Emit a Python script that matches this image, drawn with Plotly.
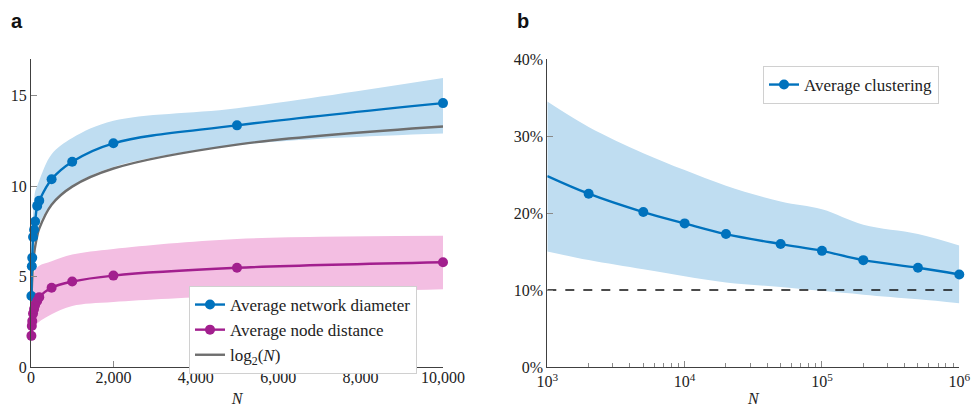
import numpy as np
import plotly.graph_objects as go

# ---- panel a: network size vs. path lengths ----
N_SIZES = [10, 20, 30, 50, 75, 100, 150, 200, 500, 1000, 2000, 5000, 10000]
DIAMETER = [3.92, 5.57, 6.03, 7.18, 7.58, 8.04, 8.90, 9.19, 10.37, 11.34, 12.36, 13.35, 14.58]
DIAMETER_HI = [4.3, 6.3, 7.2, 8.5, 9.2, 9.7, 10.0, 10.3, 11.75, 12.65, 13.6, 14.3, 15.97]
DIAMETER_LO = [3.6, 4.9, 5.3, 6.0, 6.6, 7.0, 7.5, 7.9, 9.0, 10.0, 11.05, 12.25, 12.9]
DISTANCE = [1.72, 2.27, 2.54, 2.95, 3.2, 3.42, 3.65, 3.86, 4.38, 4.72, 5.05, 5.48, 5.79]
DISTANCE_HI = [3.4, 4.3, 4.7, 5.0, 5.2, 5.38, 5.5, 5.6, 5.84, 6.21, 6.52, 7.07, 7.25]
DISTANCE_LO = [1.3, 1.7, 1.9, 2.05, 2.15, 2.27, 2.4, 2.5, 2.91, 3.37, 3.59, 3.95, 4.29]
A_XTICKS = [0, 2000, 4000, 6000, 8000, 10000]
A_YTICKS = [0, 5, 10, 15]

# ---- panel b: network size vs. clustering ----
N_LARGE = [1e3, 2e3, 5e3, 1e4, 2e4, 5e4, 1e5, 2e5, 5e5, 1e6]
CLUSTERING = [0.2483, 0.2253, 0.2014, 0.1867, 0.1728, 0.1598, 0.151, 0.1389, 0.129, 0.1203]
CLUSTERING_HI = [0.345, 0.312, 0.278, 0.256, 0.2357, 0.215, 0.205, 0.185, 0.173, 0.158]
CLUSTERING_LO = [0.150, 0.139, 0.127, 0.118, 0.110, 0.104, 0.099, 0.094, 0.088, 0.083]
BASELINE = 0.10
B_XTICKS = [1e3, 1e4, 1e5, 1e6]
B_XTICKTEXT = ["10<sup>3</sup>", "10<sup>4</sup>", "10<sup>5</sup>", "10<sup>6</sup>"]
B_YTICKS = [0, 0.1, 0.2, 0.3, 0.4]

BLUE = "#0072BD"
BLUE_BAND = "#BFDDF1"
PURPLE = "#A21F8E"
PINK_BAND = "#F3BEE2"
GRAY = "#6E6E6E"
SERIF = "Liberation Serif, DejaVu Serif, serif"
SANS = "Liberation Sans, Arial, sans-serif"
AXIS = "#404040"
TICK = "#8A8A8A"

fig = go.Figure()


def band(x, lo, hi, color, xa, ya):
    fig.add_trace(go.Scatter(x=x, y=lo, mode="lines", line=dict(width=0, shape="spline"),
                             showlegend=False, hoverinfo="skip", xaxis=xa, yaxis=ya))
    fig.add_trace(go.Scatter(x=x, y=hi, mode="lines", line=dict(width=0, shape="spline"),
                             fill="tonexty", fillcolor=color, showlegend=False,
                             hoverinfo="skip", xaxis=xa, yaxis=ya))


band(N_SIZES, DIAMETER_LO, DIAMETER_HI, BLUE_BAND, "x", "y")
band(N_SIZES, DISTANCE_LO, DISTANCE_HI, PINK_BAND, "x", "y")
band(N_LARGE, CLUSTERING_LO, CLUSTERING_HI, BLUE_BAND, "x2", "y2")

# reference curve log2(N)
n_arr = np.array(N_SIZES, dtype=float)
fig.add_trace(go.Scatter(x=n_arr, y=np.log2(n_arr), mode="lines",
                         line=dict(color=GRAY, width=2.4, shape="spline"),
                         name="log<sub>2</sub>(<i>N</i>)", legend="legend",
                         legendrank=3, xaxis="x", yaxis="y"))

marker_line = dict(width=2.4, shape="spline")
fig.add_trace(go.Scatter(x=N_SIZES, y=DIAMETER, mode="lines+markers",
                         line=dict(color=BLUE, **marker_line),
                         marker=dict(size=10, color=BLUE), cliponaxis=False,
                         name="Average network diameter", legend="legend",
                         legendrank=1, xaxis="x", yaxis="y"))
fig.add_trace(go.Scatter(x=N_SIZES, y=DISTANCE, mode="lines+markers",
                         line=dict(color=PURPLE, **marker_line),
                         marker=dict(size=10, color=PURPLE), cliponaxis=False,
                         name="Average node distance", legend="legend",
                         legendrank=2, xaxis="x", yaxis="y"))

# 10% reference level
fig.add_trace(go.Scatter(x=[N_LARGE[0], N_LARGE[-1]], y=[BASELINE, BASELINE], mode="lines",
                         line=dict(color="#111111", width=1.6, dash="dash"),
                         showlegend=False, hoverinfo="skip", xaxis="x2", yaxis="y2"))
fig.add_trace(go.Scatter(x=N_LARGE, y=CLUSTERING, mode="lines+markers",
                         line=dict(color=BLUE, **marker_line),
                         marker=dict(size=10, color=BLUE), cliponaxis=False,
                         name="Average clustering", legend="legend2",
                         xaxis="x2", yaxis="y2"))

y_dom = [40 / 407, 347.7 / 407]
common_axis = dict(showline=True, linecolor=AXIS, linewidth=1.2, ticks="inside",
                   ticklen=6, tickcolor=TICK, tickwidth=1, showgrid=False, zeroline=False,
                   automargin=False,
                   tickfont=dict(family=SERIF, size=16, color="#222222"))

fig.update_layout(
    width=971, height=407,
    margin=dict(l=0, r=0, t=0, b=0, autoexpand=False),
    paper_bgcolor="white", plot_bgcolor="white",
    font=dict(family=SERIF, size=16, color="#222222"),
    xaxis=dict(domain=[31 / 971, 443 / 971], range=[0, 10000], tickvals=A_XTICKS,
               tickformat=",d", anchor="y", ticklabelstandoff=-4,
               title=dict(text="<i>N</i>", font=dict(family=SERIF, size=16), standoff=10),
               **common_axis),
    yaxis=dict(domain=y_dom, range=[0, 17], tickvals=A_YTICKS, anchor="x", **common_axis),
    xaxis2=dict(domain=[547.3 / 971, 959.3 / 971], type="log", range=[3, 6],
                tickvals=B_XTICKS, ticktext=B_XTICKTEXT, anchor="y2",
                minor=dict(ticks="inside", ticklen=4, tickcolor=TICK, dtick="D1", showgrid=False),
                title=dict(text="<i>N</i>", font=dict(family=SERIF, size=16), standoff=6),
                **common_axis),
    yaxis2=dict(domain=y_dom, range=[0, 0.4], tickvals=B_YTICKS, tickformat=".0%",
                anchor="x2", **common_axis),
    legend=dict(x=189 / 971, y=(407 - 286) / 407, xanchor="left", yanchor="top",
                bgcolor="white", bordercolor="#D0D0D0", borderwidth=1,
                font=dict(family=SERIF, size=17, color="#222222"),
                traceorder="normal", tracegroupgap=0, itemwidth=30),
    legend2=dict(x=763 / 971, y=(407 - 66) / 407, xanchor="left", yanchor="top",
                 bgcolor="white", bordercolor="#D0D0D0", borderwidth=1,
                 font=dict(family=SERIF, size=17, color="#222222"), itemwidth=30),
    annotations=[
        dict(text="<b>a</b>", x=17 / 971, y=(407 - 21) / 407, xref="paper", yref="paper",
             xanchor="center", yanchor="middle", showarrow=False,
             font=dict(family=SANS, size=20, color="#111111")),
        dict(text="<b>b</b>", x=523 / 971, y=(407 - 21) / 407, xref="paper", yref="paper",
             xanchor="center", yanchor="middle", showarrow=False,
             font=dict(family=SANS, size=20, color="#111111")),
    ],
)

fig.write_html("out.html")
